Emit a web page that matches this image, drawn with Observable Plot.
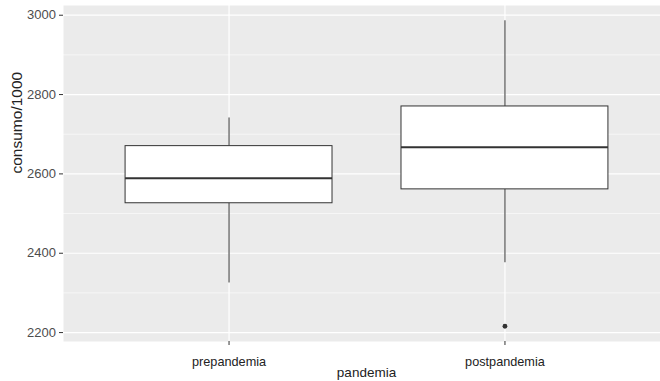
<!DOCTYPE html>
<html>
<head>
<meta charset="utf-8">
<script src="https://cdn.jsdelivr.net/npm/d3@7"></script>
<script src="https://cdn.jsdelivr.net/npm/@observablehq/plot@0.6"></script>
<style>
  html, body { margin: 0; padding: 0; background: #fff; }
  #chart svg { display: block; font-family: "Liberation Sans", Arial, sans-serif; }
</style>
</head>
<body>
<div id="chart"></div>
<script>
const categories = ["prepandemia", "postpandemia"];
const whiskerLow = [2325, 2376];
const q1 = [2526, 2561];
const median = [2589, 2667];
const q3 = [2670, 2770];
const whiskerHigh = [2741, 2986];
const outlierCategory = ["postpandemia"];
const outlierValue = [2216];
const majorTicks = [2200, 2400, 2600, 2800, 3000];
const minorTicks = [2300, 2500, 2700, 2900];
const xLabel = "pandemia";
const yLabel = "consumo/1000";

const boxes = categories.map((c, i) => ({
  cat: c, pos: i + 1, lo: whiskerLow[i], q1: q1[i], med: median[i], q3: q3[i], hi: whiskerHigh[i]
}));
const outliers = outlierCategory.map((c, i) => ({ pos: categories.indexOf(c) + 1, value: outlierValue[i] }));
const halfWidth = 0.375;

const chart = Plot.plot({
  width: 660,
  height: 381,
  marginLeft: 63,
  marginRight: 0,
  marginTop: 5,
  marginBottom: 40,
  style: { background: "#fff", fontFamily: "'Liberation Sans', Arial, sans-serif" },
  x: { type: "linear", domain: [0.4, 2.6], range: [63, 670] },
  y: { domain: [2177.5, 3024.5] },
  marks: [
    Plot.frame({ fill: "#EBEBEB", stroke: "none" }),
    Plot.ruleY(minorTicks, { stroke: "#fff", strokeWidth: 0.6 }),
    Plot.ruleY(majorTicks, { stroke: "#fff", strokeWidth: 1.2 }),
    Plot.ruleX(boxes, { x: "pos", stroke: "#fff", strokeWidth: 1.2 }),
    Plot.ruleX(boxes, { x: "pos", y1: "lo", y2: "q1", stroke: "#333", strokeWidth: 1 }),
    Plot.ruleX(boxes, { x: "pos", y1: "q3", y2: "hi", stroke: "#333", strokeWidth: 1 }),
    Plot.rect(boxes, { x1: d => d.pos - halfWidth, x2: d => d.pos + halfWidth, y1: "q1", y2: "q3", fill: "#fff", stroke: "#333", strokeWidth: 1 }),
    Plot.ruleY(boxes, { y: "med", x1: d => d.pos - halfWidth, x2: d => d.pos + halfWidth, stroke: "#333", strokeWidth: 2 }),
    Plot.dot(outliers, { x: "pos", y: "value", r: 2.4, fill: "#333", stroke: "none" }),
    Plot.axisY({ ticks: majorTicks, tickSize: 4, stroke: "#333", text: null, label: null }),
    Plot.axisY({ ticks: majorTicks, tickSize: 0, tickPadding: 7.5, tickFormat: d => String(d), fill: "#4D4D4D", fontSize: 13, label: null }),
    Plot.axisX({ ticks: [1, 2], tickSize: 4, stroke: "#333", text: null, label: null }),
    Plot.axisX({ ticks: [1, 2], tickSize: 0, tickPadding: 15, tickFormat: d => categories[d - 1], fill: "#222", fontSize: 12.7, label: null }),
    Plot.text([xLabel], { frameAnchor: "bottom", dx: 4.5, dy: 31, text: d => d, fontSize: 13.5, fill: "#222", lineAnchor: "middle" }),
    Plot.text([yLabel], { frameAnchor: "left", dx: -46, rotate: -90, text: d => d, fontSize: 15.5, fill: "#222", lineAnchor: "middle" })
  ]
});
document.getElementById("chart").appendChild(chart);
</script>
</body>
</html>
